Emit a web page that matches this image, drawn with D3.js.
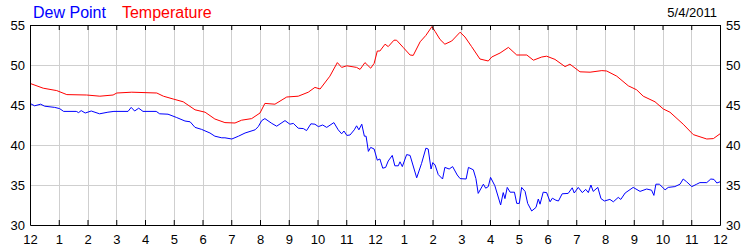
<!DOCTYPE html>
<html>
<head>
<meta charset="utf-8">
<script src="https://cdn.jsdelivr.net/npm/d3@7"></script>
<style>
  html, body { margin: 0; padding: 0; background: #fff; }
  svg { display: block; }
  text { font-family: "Liberation Sans", Arial, sans-serif; }
</style>
</head>
<body>
<svg id="chart" width="750" height="250"></svg>
<script>
const chartDate = "5/4/2011";
const seriesNames = ["Dew Point", "Temperature"];
const seriesColors = ["#0000ff", "#ff0000"];

const hourTicks = d3.range(0, 25);
const hourLabels = ["12","1","2","3","4","5","6","7","8","9","10","11","12","1","2","3","4","5","6","7","8","9","10","11","12"];
const valueTicks = [30, 35, 40, 45, 50, 55];

const tempHours = [0,0.46,0.93,1.28,1.97,2.43,2.89,3.02,3.54,4.41,4.64,4.98,5.33,5.74,6.09,6.43,6.78,7.13,7.36,7.71,8.0,8.17,8.52,8.93,9.33,9.68,9.91,10.09,10.43,10.69,10.84,11.02,11.36,11.48,11.65,11.85,11.97,12.08,12.17,12.35,12.46,12.66,12.75,12.98,13.22,13.33,13.57,13.77,13.98,14.09,14.26,14.43,14.67,14.96,15.13,15.36,15.65,15.94,16.06,16.35,16.64,16.93,17.28,17.51,17.80,17.97,18.26,18.61,18.78,19.13,19.48,19.89,20.06,20.41,20.81,21.10,21.33,21.74,22.03,22.26,22.72,23.07,23.54,23.77,24];
const tempValues = [47.7,47.1,46.8,46.3,46.25,46.1,46.25,46.5,46.6,46.5,46.1,45.75,45.4,44.4,44.1,43.25,42.8,42.75,43.1,43.3,44.0,45.2,45.1,46.0,46.1,46.6,47.2,47.0,48.6,50.3,49.7,49.9,49.7,49.45,50.3,49.6,50.2,51.75,51.75,52.6,52.3,53.1,53.1,52.2,51.25,51.2,52.9,53.7,54.8,54.2,53.2,52.6,53.0,54.1,53.5,52.3,50.75,50.5,51.0,51.5,52.2,51.25,51.25,50.6,51.0,51.1,50.7,49.8,50.1,49.15,49.1,49.3,49.25,48.6,47.4,46.9,46.1,45.4,44.5,44.1,42.6,41.3,40.75,40.8,41.4];

const dewHours = [0,0.16,0.37,0.51,0.86,1.03,1.17,1.61,1.69,1.78,1.92,2.13,2.42,2.71,2.92,3.41,3.52,3.64,3.78,3.93,4.39,4.51,4.80,5.09,5.39,5.57,5.74,5.97,6.26,6.43,6.67,6.78,7.02,7.25,7.48,7.83,7.94,8.06,8.17,8.41,8.58,8.87,9.04,9.16,9.33,9.51,9.62,9.77,9.91,10.03,10.18,10.32,10.57,10.72,10.84,10.92,11.02,11.13,11.28,11.36,11.44,11.54,11.63,11.69,11.77,11.85,11.97,12.08,12.17,12.27,12.37,12.46,12.60,12.69,12.81,12.87,12.95,13.10,13.22,13.45,13.62,13.77,13.85,13.95,14.01,14.09,14.20,14.35,14.43,14.58,14.70,14.86,14.96,15.17,15.25,15.42,15.51,15.59,15.77,15.85,15.94,16.02,16.17,16.37,16.46,16.52,16.60,16.70,16.85,16.93,17.02,17.10,17.22,17.31,17.45,17.60,17.68,17.74,17.85,17.97,18.09,18.17,18.29,18.38,18.51,18.72,18.86,18.93,19.07,19.21,19.33,19.42,19.51,19.59,19.75,19.86,19.98,20.17,20.29,20.46,20.55,20.70,20.98,21.22,21.45,21.62,21.70,21.77,21.89,22.09,22.20,22.43,22.61,22.72,22.84,23.02,23.19,23.30,23.54,23.68,23.79,23.89,24];
const dewValues = [45.2,44.9,45.1,44.85,44.7,44.55,44.2,44.2,44.05,44.3,44.0,44.25,43.9,44.1,44.2,44.2,44.7,44.25,44.6,44.2,44.2,43.9,43.85,43.45,43.0,42.9,42.2,41.95,41.5,41.1,40.9,40.9,40.75,41.1,41.5,41.9,42.3,43.05,43.3,42.7,42.35,43.05,42.6,42.7,42.1,42.05,41.8,42.65,42.6,42.3,42.5,42.2,42.8,41.9,41.4,41.75,41.2,41.25,41.9,42.4,41.9,42.6,41.1,41.1,39.2,39.7,39.5,38.1,38.25,37.1,37.2,38.0,38.7,37.4,37.4,37.9,37.3,38.8,38.7,35.9,37.7,39.6,39.5,37.0,37.8,37.5,36.3,35.75,37.2,37.0,37.3,36.25,35.8,35.75,37.2,36.9,35.8,33.95,35.1,34.6,34.8,35.95,34.9,32.5,34.05,33.3,34.7,34.1,34.1,32.7,32.7,34.7,34.2,32.7,31.75,32.2,33.25,32.6,34.1,34.05,32.9,33.35,33.1,33.0,33.9,33.95,34.65,34.0,34.7,34.05,34.45,34.05,35.0,34.2,34.7,33.3,33.0,33.2,32.9,33.45,33.2,34.0,34.7,34.2,34.5,34.35,33.7,35.1,35.1,34.4,34.7,34.8,35.1,35.75,35.4,34.8,35.1,35.3,35.3,35.75,35.7,35.25,35.4];

const svg = d3.select("#chart");
const W = 750, H = 250;
const m = { left: 30, right: 30, top: 25, bottom: 25 };

const x = d3.scaleLinear().domain([0, 24]).range([m.left, W - m.right]);
const y = d3.scaleLinear().domain([30, 55]).range([H - m.bottom, m.top]);

// grid
const grid = svg.append("g").attr("shape-rendering", "crispEdges").attr("stroke", "#cfcfcf").attr("stroke-width", 1);
grid.selectAll("line.v").data(hourTicks.slice(1, -1)).join("line")
  .attr("x1", d => Math.round(x(d)) + 0.5).attr("x2", d => Math.round(x(d)) + 0.5)
  .attr("y1", y(55)).attr("y2", y(30));
grid.selectAll("line.h").data(valueTicks.slice(1, -1)).join("line")
  .attr("y1", d => Math.round(y(d)) + 0.5).attr("y2", d => Math.round(y(d)) + 0.5)
  .attr("x1", x(0)).attr("x2", x(24));

// lines
const line = (hours) => d3.line().x((d, i) => x(hours[i])).y(d => y(d));
svg.append("path").datum(tempValues)
  .attr("fill", "none").attr("stroke", seriesColors[1]).attr("stroke-width", 1)
  .attr("d", line(tempHours));
svg.append("path").datum(dewValues)
  .attr("fill", "none").attr("stroke", seriesColors[0]).attr("stroke-width", 1)
  .attr("d", line(dewHours));

// axes
const fmtHour = (d, i) => hourLabels[i];
const styleAxis = g => {
  g.select(".domain").attr("stroke", "#000");
  g.selectAll(".tick line").attr("stroke", "#000");
  g.selectAll(".tick text").attr("fill", "#000").style("font-size", "13px")
    .style("font-family", '"Liberation Sans", Arial, sans-serif');
};
svg.append("g").attr("transform", `translate(0,${y(30)})`)
  .call(d3.axisBottom(x).tickValues(hourTicks).tickFormat(fmtHour).tickSizeInner(-5).tickSizeOuter(0).tickPadding(10))
  .call(styleAxis);
svg.append("g").attr("transform", `translate(0,${y(55)})`)
  .call(d3.axisTop(x).tickValues(hourTicks).tickFormat("").tickSizeInner(-5).tickSizeOuter(0))
  .call(styleAxis);
svg.append("g").attr("transform", `translate(${x(0)},0)`)
  .call(d3.axisLeft(y).tickValues(valueTicks).tickSize(0).tickPadding(5))
  .call(styleAxis);
svg.append("g").attr("transform", `translate(${x(24)},0)`)
  .call(d3.axisRight(y).tickValues(valueTicks).tickSize(0).tickPadding(6))
  .call(styleAxis);

// legend / title
const title = svg.append("text").attr("x", 33).attr("y", 17.5).style("font-size", "16px");
title.append("tspan").attr("fill", seriesColors[0]).text(seriesNames[0]);
title.append("tspan").attr("fill", seriesColors[1]).attr("dx", 16).text(seriesNames[1]);

svg.append("text").attr("x", 717).attr("y", 17).attr("text-anchor", "end")
  .attr("fill", "#000").style("font-size", "13px").text(chartDate);
</script>
</body>
</html>
